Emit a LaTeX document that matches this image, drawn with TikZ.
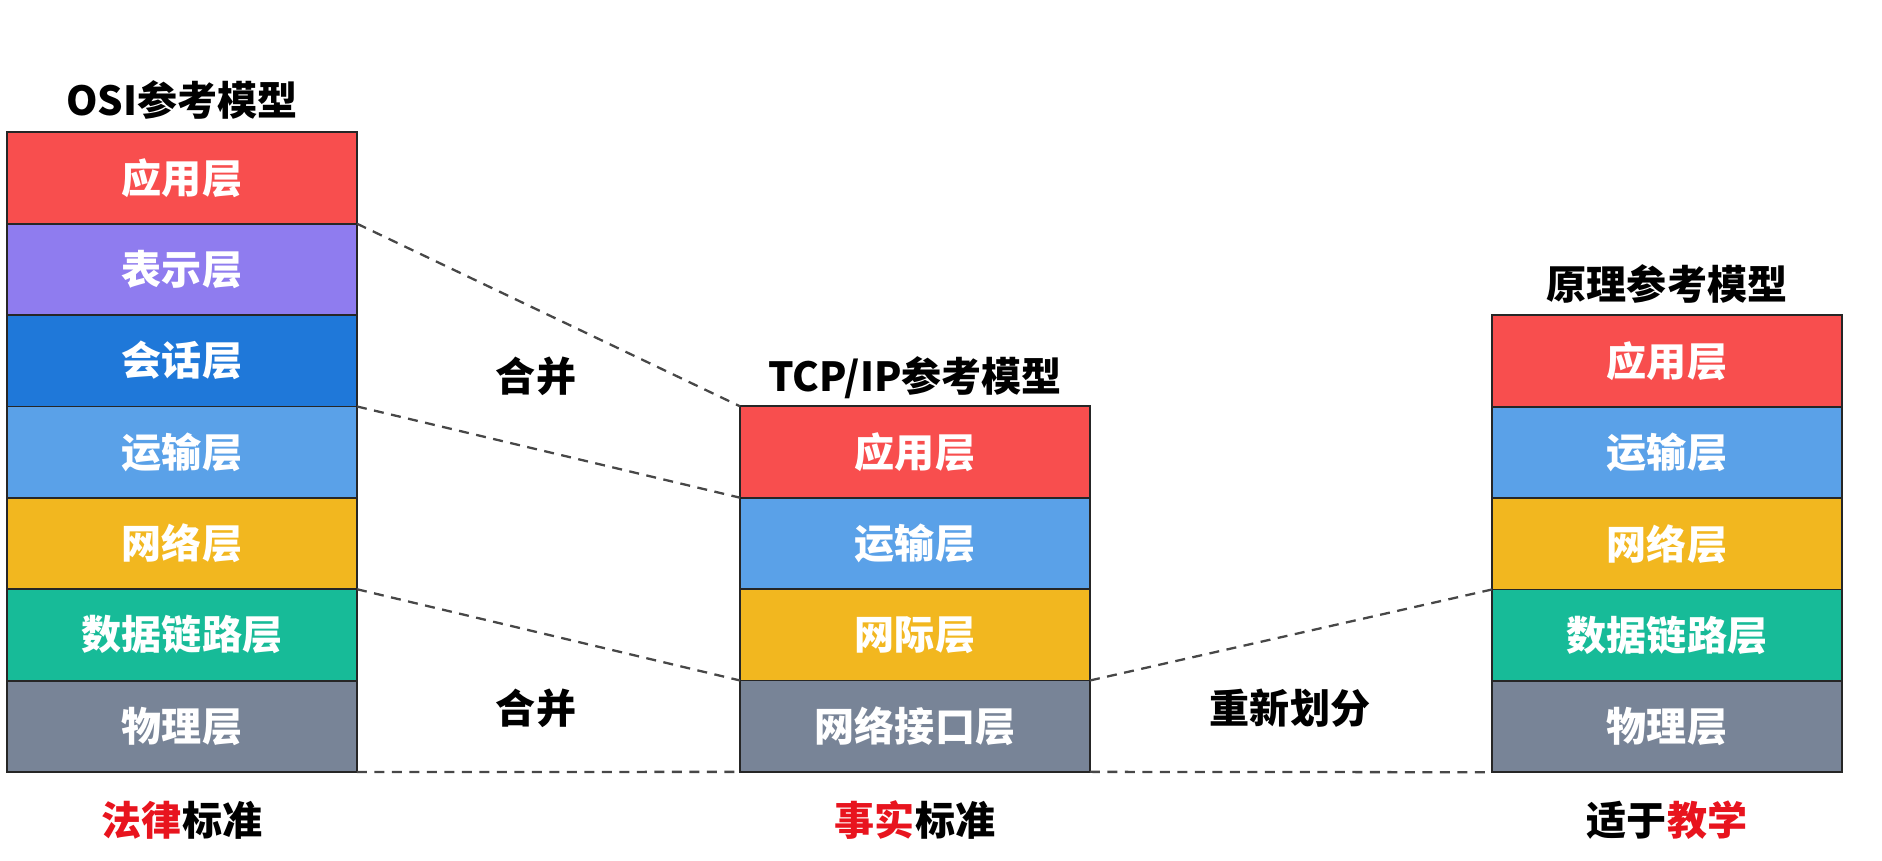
\documentclass[tikz,border=0pt]{standalone}
\usepackage{fontspec}
\setmainfont{Noto Sans CJK SC}
\usepackage{tikz}
\usetikzlibrary{positioning}

\definecolor{cred}{HTML}{F84E4E}
\definecolor{cpurple}{HTML}{8F7CEF}
\definecolor{cdblue}{HTML}{1F78D9}
\definecolor{clblue}{HTML}{5AA1E8}
\definecolor{cyellow}{HTML}{F2B71F}
\definecolor{cgreen}{HTML}{17BB98}
\definecolor{cgray}{HTML}{788497}
\definecolor{hlred}{HTML}{E8141E}

\begin{document}
\begin{tikzpicture}[x=0.02cm, y=-0.02cm,
    lay/.style={draw=black!85, line width=1.1pt, minimum width=7cm, minimum height=1.828cm, inner sep=0pt, outer sep=0pt, text=white, font=\fontsize{22.8}{24}\selectfont\bfseries},
    ttl/.style={font=\fontsize{22.8}{24}\selectfont\bfseries, inner sep=0pt},
    link/.style={dashed, dash pattern=on 0.2cm off 0.15cm, line width=1.3pt, draw=black!72}
]
\useasboundingbox (0,0) rectangle (1882,860);

% OSI
\node[lay, fill=cred] (osi1) at (182,178) {应用层};
\node[lay, fill=cpurple, below=0pt of osi1] (osi2) {表示层};
\node[lay, fill=cdblue, below=0pt of osi2] (osi3) {会话层};
\node[lay, fill=clblue, below=0pt of osi3] (osi4) {运输层};
\node[lay, fill=cyellow, below=0pt of osi4] (osi5) {网络层};
\node[lay, fill=cgreen, below=0pt of osi5] (osi6) {数据链路层};
\node[lay, fill=cgray, below=0pt of osi6] (osi7) {物理层};

% TCP/IP
\node[lay, fill=cred] (tcp1) at (915,452) {应用层};
\node[lay, fill=clblue, below=0pt of tcp1] (tcp2) {运输层};
\node[lay, fill=cyellow, below=0pt of tcp2] (tcp3) {网际层};
\node[lay, fill=cgray, below=0pt of tcp3] (tcp4) {网络接口层};

% principle model
\node[lay, fill=cred] (pr1) at (1667,361) {应用层};
\node[lay, fill=clblue, below=0pt of pr1] (pr2) {运输层};
\node[lay, fill=cyellow, below=0pt of pr2] (pr3) {网络层};
\node[lay, fill=cgreen, below=0pt of pr3] (pr4) {数据链路层};
\node[lay, fill=cgray, below=0pt of pr4] (pr5) {物理层};

\node[ttl] (osit) at (182,100) {OSI参考模型};
\node[ttl] (tcpt) at (915,378) {TCP/IP参考模型};
\node[ttl] (prt) at (1667,284) {原理参考模型};

\node[ttl] (osib) at (182,820) {\textcolor{hlred}{法律}标准};
\node[ttl] (tcpb) at (915,820) {\textcolor{hlred}{事实}标准};
\node[ttl] (prb) at (1667,820) {适于\textcolor{hlred}{教学}};

\node[ttl] (mg1) at (536,376) {合并};
\node[ttl] (mg2) at (536,708) {合并};
\node[ttl] (rdv) at (1290,708) {重新划分};

\draw[link] (osi2.north east) -- (tcp1.north west);
\draw[link] (osi4.north east) -- (tcp2.north west);
\draw[link] (osi6.north east) -- (tcp4.north west);
\draw[link] (osi7.south east) -- (tcp4.south west);
\draw[link] (tcp4.north east) -- (pr4.north west);
\draw[link] (tcp4.south east) -- (pr5.south west);
\end{tikzpicture}
\end{document}
